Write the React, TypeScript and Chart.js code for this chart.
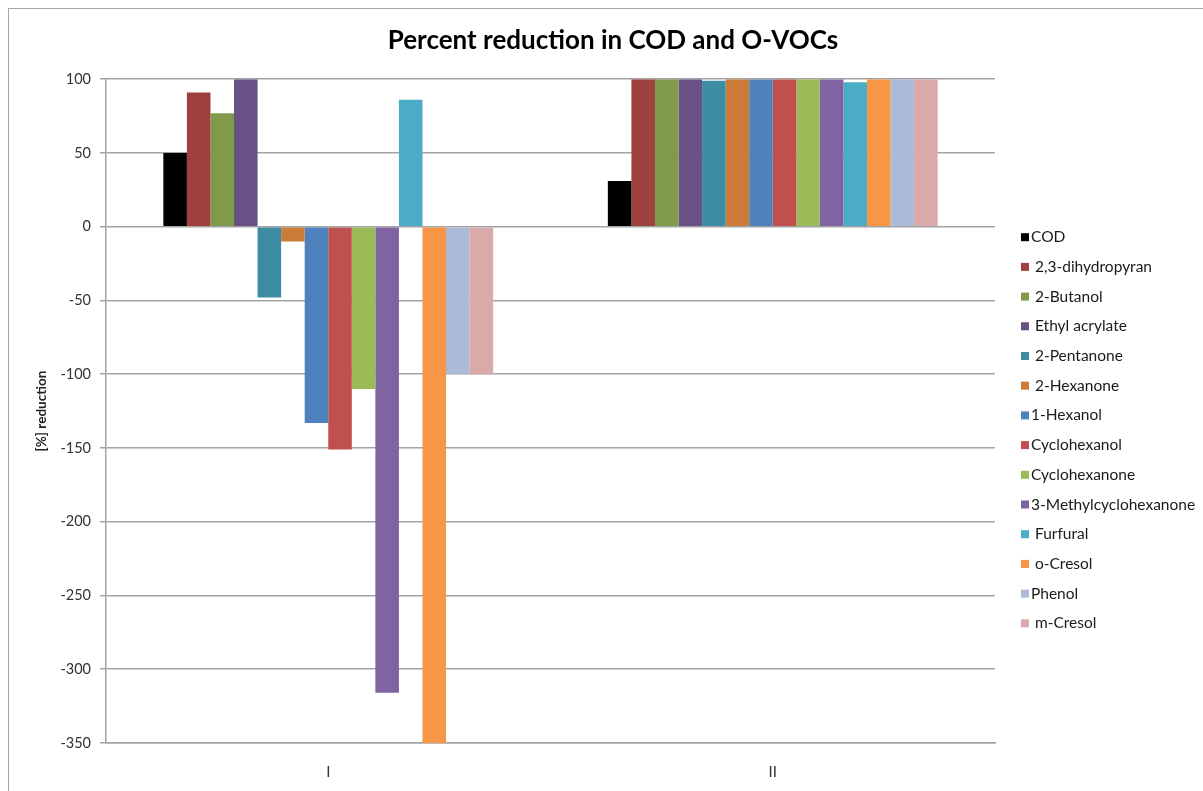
import React, { useEffect, useRef } from 'react';
import { Chart, registerables } from 'chart.js';

Chart.register(...registerables);

// Sampling campaigns on the category axis
const categories = ['I', 'II'];

// Series names as they appear in the legend
const compounds = [
  'COD',
  ' 2,3-dihydropyran',
  ' 2-Butanol',
  ' Ethyl acrylate',
  ' 2-Pentanone',
  ' 2-Hexanone',
  '1-Hexanol',
  'Cyclohexanol',
  'Cyclohexanone',
  '3-Methylcyclohexanone',
  ' Furfural',
  ' o-Cresol',
  'Phenol',
  ' m-Cresol',
];

// Percent reduction per compound, campaign I
const reductionI = [50, 91, 77, 100, -48, -10, -133, -151, -110, -316, 86, -350, -100, -100];
// Percent reduction per compound, campaign II
const reductionII = [31, 100, 100, 100, 99, 100, 100, 100, 100, 100, 98, 100, 100, 100];

// Value axis range and tick step
const yMin = -350;
const yMax = 100;
const yStep = 50;

const seriesColors = [
  '#000000',
  '#9E413E',
  '#7F9A48',
  '#695185',
  '#3C8DA3',
  '#CC7B38',
  '#4F81BD',
  '#C0504D',
  '#9BBB59',
  '#8064A2',
  '#4BACC6',
  '#F79646',
  '#AABAD7',
  '#D9AAA9',
];

const gridGray = '#a3a3a3';
const FONT = 'Lato, "Open Sans", sans-serif';

// Vertical legend drawn to the right of the plot area
const sideLegend = {
  id: 'sideLegend',
  afterDraw(chart: any) {
    const { ctx, chartArea } = chart;
    const x = chartArea.right + 26;
    const y0 = chartArea.top + 158;
    const step = 29.7;
    ctx.save();
    ctx.font = `15.5px ${FONT}`;
    ctx.textBaseline = 'middle';
    ctx.textAlign = 'left';
    chart.data.datasets.forEach((ds: any, i: number) => {
      const y = y0 + i * step;
      ctx.fillStyle = ds.backgroundColor;
      ctx.fillRect(x, y - 4, 8, 8);
      ctx.fillStyle = '#1a1a1a';
      ctx.fillText(ds.label, x + 10, y);
    });
    ctx.restore();
  },
};

export default function App() {
  const canvasRef = useRef<HTMLCanvasElement>(null);

  useEffect(() => {
    const datasets = compounds.map((name, i) => ({
      label: name,
      data: [reductionI[i], reductionII[i]],
      backgroundColor: seriesColors[i],
      borderWidth: 0,
      barPercentage: 1,
      categoryPercentage: 0.742,
    }));

    const chart = new Chart(canvasRef.current as HTMLCanvasElement, {
      type: 'bar',
      data: { labels: categories, datasets },
      options: {
        responsive: false,
        animation: false,
        layout: { padding: 0 },
        plugins: {
          legend: { display: false },
          tooltip: { enabled: false },
          title: {
            display: true,
            text: 'Percent reduction in COD and O-VOCs',
            color: '#000',
            font: { family: FONT, size: 26, weight: 'bold' },
            padding: { top: 16, bottom: 23 },
          },
        },
        scales: {
          x: {
            grid: { display: false },
            border: { display: true, color: gridGray, width: 1.5 },
            ticks: { color: '#333', font: { family: FONT, size: 15 }, padding: 12 },
            afterFit: (s: any) => {
              s.height = 48;
            },
          },
          y: {
            min: yMin,
            max: yMax,
            ticks: {
              stepSize: yStep,
              padding: 9,
              color: '#333',
              font: { family: FONT, size: 14.5 },
            },
            grid: { color: gridGray, lineWidth: 1.5, tickLength: 6, drawTicks: true },
            border: { display: true, color: gridGray, width: 1.5 },
            title: {
              display: true,
              text: '[%] reduction',
              color: '#222',
              font: { family: FONT, size: 13.5, weight: 'bold' },
              padding: { top: 25, bottom: 0 },
            },
            afterFit: (s: any) => {
              s.width = 97;
            },
          },
          // empty axis that keeps room on the right for the legend
          legendRoom: {
            type: 'linear',
            position: 'right',
            display: true,
            grid: { display: false },
            border: { display: false },
            ticks: { display: false },
            afterFit: (s: any) => {
              s.width = 222;
            },
          },
        },
      } as any,
      plugins: [sideLegend],
    });

    return () => chart.destroy();
  }, []);

  return (
    <div
      style={{
        position: 'fixed',
        top: 8,
        left: 8,
        width: 1195,
        height: 783,
        overflow: 'hidden',
        borderTop: '1px solid #a6a6a6',
        borderLeft: '1px solid #a6a6a6',
        boxSizing: 'border-box',
        background: '#fff',
      }}
    >
      <canvas ref={canvasRef} width={1208} height={782} style={{ display: 'block' }} />
    </div>
  );
}
